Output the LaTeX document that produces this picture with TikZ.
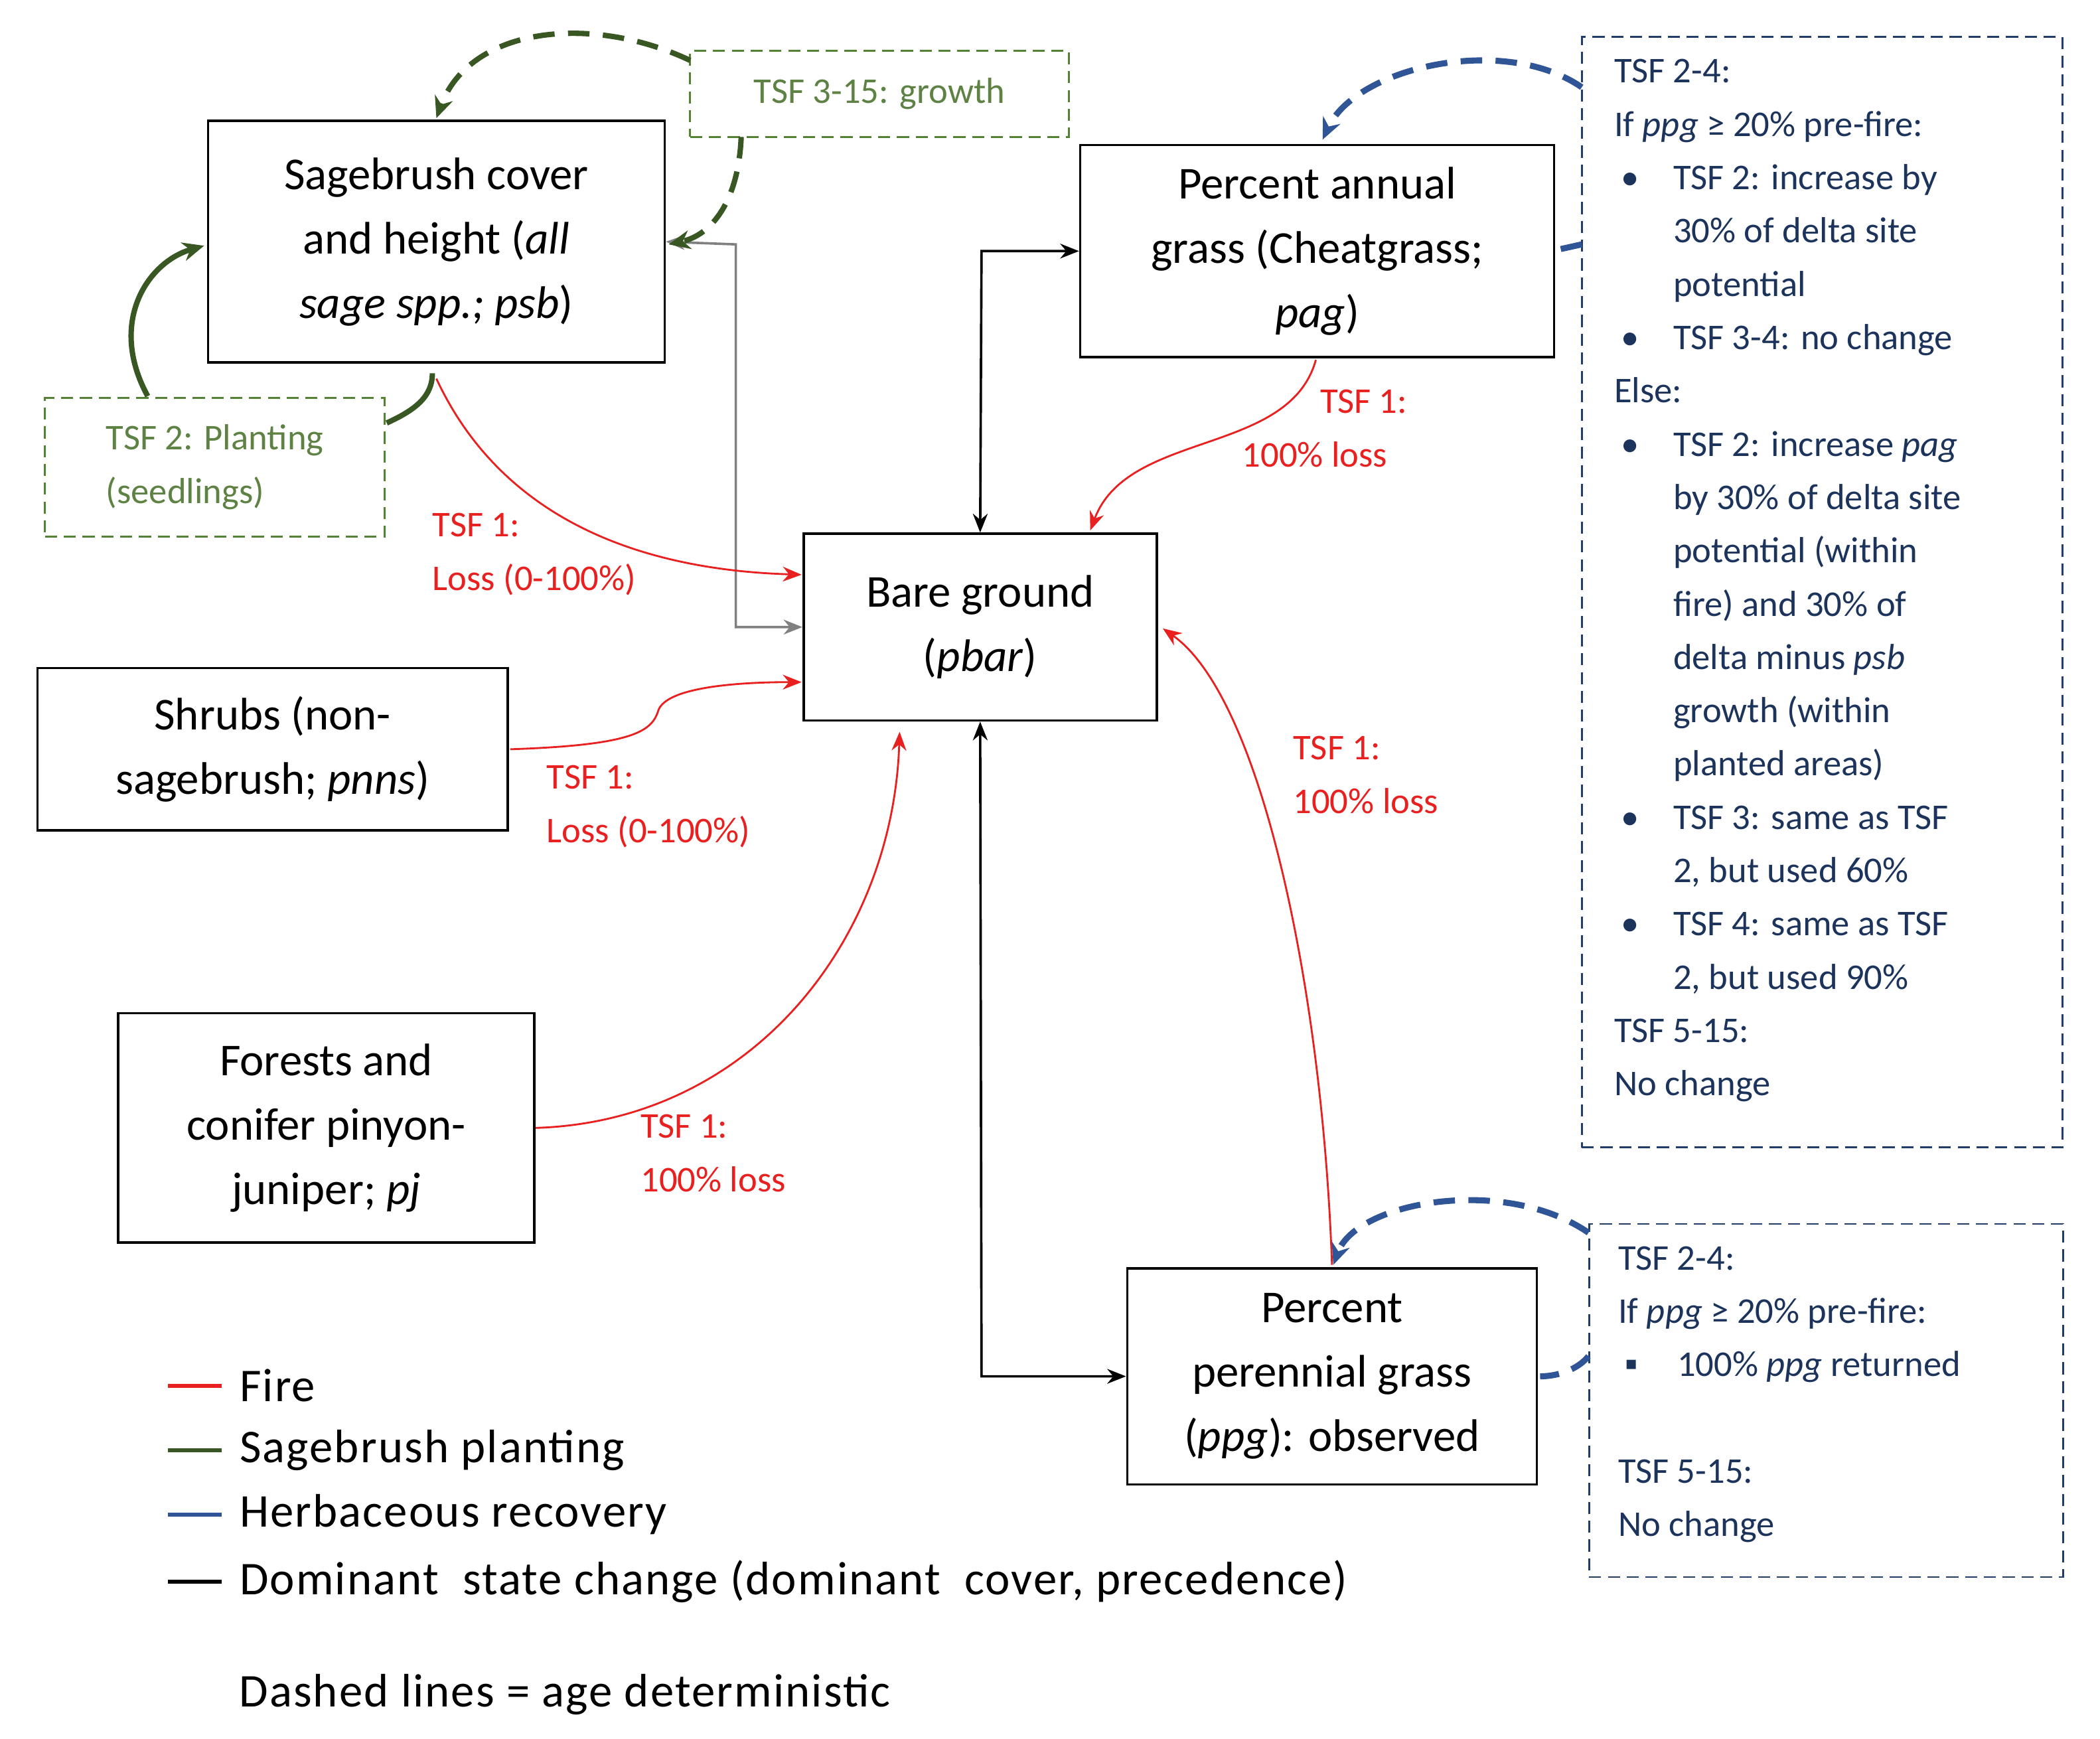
\documentclass[tikz,border=0pt]{standalone}
\usepackage{fontspec}
\setmainfont{Carlito}
\usetikzlibrary{arrows.meta}
\definecolor{fire}{RGB}{232,32,32}
\definecolor{sg}{RGB}{56,87,35}
\definecolor{sgl}{RGB}{84,130,53}
\definecolor{hb}{RGB}{47,85,151}
\newcommand\bl{\makebox[44pt][l]{\hspace{5pt}•}}
\newcommand\ind{\hspace*{44pt}}
\begin{document}
\begin{tikzpicture}[x=1pt,y=-1pt,
 box/.style={draw,line width=1.8pt,align=center,font=\fontsize{34}{48}\selectfont,inner sep=0pt},
 lbl/.style={text=fire,align=left,font=\fontsize{27}{40}\selectfont,anchor=north west,inner sep=0pt},
 firea/.style={fire,line width=1.4pt,-{Stealth[length=14pt,width=11pt]}},
 domi/.style={line width=1.8pt,{Stealth[length=14pt,width=11pt]}-{Stealth[length=14pt,width=11pt]}},
 grn/.style={sg,line width=4pt,-{Stealth[length=16pt,width=14pt]}},
 grnd/.style={grn,dash pattern=on 16pt off 10pt},
 blu/.style={hb,line width=4.5pt,dash pattern=on 16pt off 10pt},
 dbox/.style={draw,dash pattern=on 9pt off 5pt,line width=1.4pt},
 small/.style={font=\fontsize{27}{39.7}\selectfont,align=left,anchor=north west,inner sep=0pt}]
\useasboundingbox (0,0) rectangle (1564,1295);
\node[box,minimum width=340pt,minimum height=180pt] (sage) at (325,180) {Sagebrush cover\\and height (\textit{all}\\\textit{sage spp.; psb})};
\node[box,minimum width=353pt,minimum height=158pt] (ann) at (981,187) {Percent annual\\grass (Cheatgrass;\\\textit{pag})};
\node[box,minimum width=263pt,minimum height=139pt] (bare) at (730,467) {Bare ground\\(\textit{pbar})};
\node[box,minimum width=350pt,minimum height=121pt] (shr) at (203,558) {Shrubs (non-\\sagebrush; \textit{pnns})};
\node[box,minimum width=310pt,minimum height=171pt] (for) at (243,840) {Forests and\\conifer pinyon-\\juniper; \textit{pj}};
\node[box,minimum width=305pt,minimum height=161pt] (per) at (992,1025) {Percent\\perennial grass\\(\textit{ppg}): observed};
\node[dbox,draw=sgl,minimum width=282pt,minimum height=64pt,text=sgl!80!gray,font=\fontsize{27}{36}\selectfont] (grow) at (655,70) {TSF 3-15: growth};
\node[dbox,draw=sgl,minimum width=253pt,minimum height=103pt,text=sgl!80!gray,align=left,font=\fontsize{27}{40}\selectfont] (plant) at (160,348) {TSF 2: Planting\\(seedlings)};
\node[dbox,draw=hb!70!black,minimum width=358pt,minimum height=827pt] (r1) at (1357,441) {};
\node[dbox,draw=hb!70!black,minimum width=353pt,minimum height=263pt] (r2) at (1360,1043) {};
\node[small,text=hb!60!black] (t1) at (1202,44) {TSF 2-4:\\If \textit{ppg} ≥ 20\% pre-fire:\\\bl TSF 2: increase by\\\ind 30\% of delta site\\\ind potential\\\bl TSF 3-4: no change\\Else:\\\bl TSF 2: increase \textit{pag}\\\ind by 30\% of delta site\\\ind potential (within\\\ind fire) and 30\% of\\\ind delta minus \textit{psb}\\\ind growth (within\\\ind planted areas)\\\bl TSF 3: same as TSF\\\ind 2, but used 60\%\\\bl TSF 4: same as TSF\\\ind 2, but used 90\%\\TSF 5-15:\\No change};
\node[small,text=hb!60!black] (t2) at (1205,928) {TSF 2-4:\\If \textit{ppg} ≥ 20\% pre-fire:\\\makebox[44pt][l]{\hspace{5pt}▪}100\% \textit{ppg} returned\\[39.7pt]TSF 5-15:\\No change};
% dominant
\draw[domi,gray] (sage.east) -- (548,182) -- (548,467) -- (bare.west);
\draw[domi] (ann.west) -- (731,187) -- (bare.north);
\draw[domi] (bare.south) -- (731,1025) -- (per.west);
% fire
\draw[firea] (325,282) .. controls (380,400) and (500,425) .. (597,428);
\draw[firea] (980,268) .. controls (960,340) and (840,320) .. (812,395);
\draw[firea] (380,558) .. controls (470,555) and (485,545) .. (490,530) .. controls (495,510) and (560,508) .. (597,508);
\draw[firea] (for.east) .. controls (560,835) and (665,700) .. (670,545);
\draw[firea] (992,942) .. controls (985,740) and (940,520) .. (866,468);
\node[lbl] (l1) at (322,382) {TSF 1:\\Loss (0-100\%)};
\node[lbl] (l2) at (925,290) {\hspace*{58pt}TSF 1:\\100\% loss};
\node[lbl] (l3) at (407,570) {TSF 1:\\Loss (0-100\%)};
\node[lbl] (l4) at (963,548) {TSF 1:\\100\% loss};
\node[lbl] (l5) at (477,830) {TSF 1:\\100\% loss};
% green
\draw[grn] (110,295) .. controls (80,240) and (110,195) .. (152,183);
\draw[grn,-] (288,315) .. controls (310,305) and (322,295) .. (322,278);
\draw[grnd] (552,102) .. controls (550,150) and (530,175) .. (498,182);
\draw[grnd] (514,45) .. controls (440,10) and (350,20) .. (325,88);
% blue
\draw[blu,-{Stealth[length=16pt,width=14pt]}] (1178,65) .. controls (1120,25) and (1010,50) .. (985,104);
\draw[blu] (1178,182) -- (1160,186);
\draw[blu,-{Stealth[length=16pt,width=14pt]}] (1183,918) .. controls (1120,875) and (1010,895) .. (993,942);
\draw[blu] (1183,1010) .. controls (1175,1020) and (1160,1025) .. (1147,1025);
% legend
\foreach \y/\c/\t in {1032/fire/Fire,1080/sg/Sagebrush planting,1128/hb/Herbaceous recovery,1178/black/{Dominant\ \ state change (dominant\ \ cover, precedence)}}
 \draw[\c,line width=3pt] (125,\y) -- (165,\y) node[right=12pt,black,font=\fontsize{35}{40}\selectfont,inner sep=0pt] {\addfontfeature{LetterSpace=3}\t};
\node[anchor=west,inner sep=0pt,font=\fontsize{35}{40}\selectfont] (dl) at (178,1262) {\addfontfeature{LetterSpace=3}Dashed lines = age deterministic};
\end{tikzpicture}
\end{document}
